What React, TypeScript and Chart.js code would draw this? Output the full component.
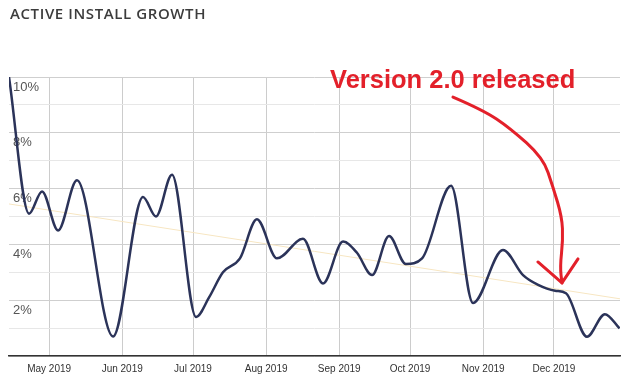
import React, { useEffect, useRef } from 'react';
import { Chart, registerables } from 'chart.js';

Chart.register(...registerables);

// Days counted from 1 May 2019 (day 0)
const dayOffsets = [
  -17, -8.5, -3.0, 3.8, 11.8, 27.1, 39.8, 45.3, 52.1, 62.3, 67.8, 73.7, 80.9, 88.1,
  96.6, 107.6, 116.1, 124.6, 130.5, 136.9, 144.1, 151.2, 158.1, 170.4, 179.7, 192.4,
  200.9, 207.3, 214.5, 219.1, 228.0, 235.6, 241.8,
];
const growthValues = [
  10.0, 5.1, 5.9, 4.5, 6.3, 0.7, 5.7, 5.0, 6.5, 1.4, 2.1, 3.0, 3.5, 4.9,
  3.5, 4.2, 2.6, 4.1, 3.7, 2.9, 4.3, 3.3, 3.5, 6.1, 1.9, 3.8,
  2.9, 2.55, 2.34, 2.25, 0.69, 1.5, 0.99,
];
const trendDays = [-17, 242];
const trendValues = [5.45, 2.05];

const monthTickDays = [0, 31, 61, 92, 123, 153, 184, 214];
const monthLabels = ['May 2019', 'Jun 2019', 'Jul 2019', 'Aug 2019', 'Sep 2019', 'Oct 2019', 'Nov 2019', 'Dec 2019'];
const labelledPercents = [2, 4, 6, 8, 10];

const titleText = 'ACTIVE INSTALL GROWTH';
const annotationText = 'Version 2.0 released';
const annotationAnchor = [119.1, 9.6];
const arrowPath = [
  [171.2, 9.28], [183.9, 8.82], [195.4, 8.17], [209.4, 7.1], [213.6, 6.06],
  [217.4, 4.98], [217.8, 4.16], [216.6, 3.19], [217.4, 2.62],
];
const arrowTip = [217.4, 2.62];
const arrowHeadLeft = [207.2, 3.37];
const arrowHeadRight = [224.2, 3.48];

const NAVY = '#2b3359';
const RED = '#e3202a';

const annotationPlugin = {
  id: 'releaseAnnotation',
  afterDraw(chart: any) {
    const { ctx } = chart;
    const xs = chart.scales.x;
    const ys = chart.scales.y;
    const px = (p: number[]) => [xs.getPixelForValue(p[0]), ys.getPixelForValue(p[1])];
    ctx.save();
    ctx.fillStyle = RED;
    ctx.font = 'bold 25.5px "Liberation Sans", Arial, sans-serif';
    ctx.textBaseline = 'alphabetic';
    ctx.textAlign = 'left';
    const a = px(annotationAnchor);
    ctx.fillText(annotationText, a[0], a[1]);

    ctx.strokeStyle = RED;
    ctx.lineWidth = 3;
    ctx.lineCap = 'round';
    ctx.lineJoin = 'round';
    const pts = arrowPath.map(px);
    ctx.beginPath();
    ctx.moveTo(pts[0][0], pts[0][1]);
    for (let i = 1; i < pts.length - 1; i++) {
      const mx = (pts[i][0] + pts[i + 1][0]) / 2;
      const my = (pts[i][1] + pts[i + 1][1]) / 2;
      ctx.quadraticCurveTo(pts[i][0], pts[i][1], mx, my);
    }
    const last = pts[pts.length - 1];
    ctx.lineTo(last[0], last[1]);
    ctx.stroke();

    const t = px(arrowTip);
    const l = px(arrowHeadLeft);
    const r = px(arrowHeadRight);
    ctx.beginPath();
    ctx.moveTo(l[0], l[1]);
    ctx.lineTo(t[0], t[1]);
    ctx.lineTo(r[0], r[1]);
    ctx.stroke();
    ctx.restore();
  },
};

export default function App() {
  const canvasRef = useRef<HTMLCanvasElement | null>(null);

  useEffect(() => {
    if (!canvasRef.current) return;
    const chart = new Chart(canvasRef.current, {
      type: 'line',
      data: {
        datasets: [
          {
            data: dayOffsets.map((d, i) => ({ x: d, y: growthValues[i] })),
            borderColor: NAVY,
            borderWidth: 2.5,
            pointRadius: 0,
            cubicInterpolationMode: 'monotone',
            fill: false,
            order: 1,
          },
          {
            data: trendDays.map((d, i) => ({ x: d, y: trendValues[i] })),
            borderColor: '#f7e6c2',
            borderWidth: 1,
            pointRadius: 0,
            fill: false,
            order: 2,
          },
        ],
      },
      options: {
        animation: false,
        responsive: false,
        devicePixelRatio: 1,
        layout: { padding: { left: 9, right: 7, top: 77, bottom: 0 } },
        plugins: {
          legend: { display: false },
          tooltip: { enabled: false },
          title: { display: false },
        },
        scales: {
          x: {
            type: 'linear',
            min: -17,
            max: 242,
            afterBuildTicks: (s: any) => {
              s.ticks = monthTickDays.map((v) => ({ value: v }));
            },
            afterFit: (s: any) => {
              s.height = 23;
            },
            grid: { color: '#cccccc', drawTicks: false, lineWidth: 1 },
            border: { display: true, color: '#333333', width: 1.5 },
            ticks: {
              autoSkip: false,
              maxRotation: 0,
              padding: 7,
              color: '#333333',
              font: { family: '"Liberation Sans", Arial, sans-serif', size: 10 },
              callback: (v: any) => {
                const i = monthTickDays.indexOf(Number(v));
                return i >= 0 ? monthLabels[i] : '';
              },
            },
          },
          y: {
            min: 0,
            max: 10,
            afterFit: (s: any) => {
              s.width = 0;
            },
            grid: {
              drawTicks: false,
              color: (c: any) => (c.tick && c.tick.value % 2 === 0 ? '#cfcfcf' : '#e7e7e7'),
            },
            border: { display: false },
            ticks: {
              stepSize: 1,
              mirror: true,
              labelOffset: 10,
              padding: 4,
              color: '#555555',
              font: { family: '"Liberation Sans", Arial, sans-serif', size: 13 },
              callback: (v: any) => (labelledPercents.includes(Number(v)) ? v + '%' : ''),
            },
          },
        },
      },
      plugins: [annotationPlugin],
    } as any);
    return () => chart.destroy();
  }, []);

  return (
    <div style={{ position: 'absolute', left: 0, top: 0, width: 627, height: 379, background: '#fff' }}>
      <canvas
        ref={canvasRef}
        width={627}
        height={379}
        style={{ position: 'absolute', left: 0, top: 0, width: 627, height: 379, display: 'block' }}
      />
      <div
        style={{
          position: 'absolute',
          left: 10,
          top: 3,
          fontFamily: '"Open Sans", sans-serif',
          fontWeight: 600,
          fontSize: 15,
          lineHeight: '20px',
          letterSpacing: '0.6px',
          color: '#3c3c3c',
          whiteSpace: 'nowrap',
        }}
      >
        {titleText}
      </div>
    </div>
  );
}
